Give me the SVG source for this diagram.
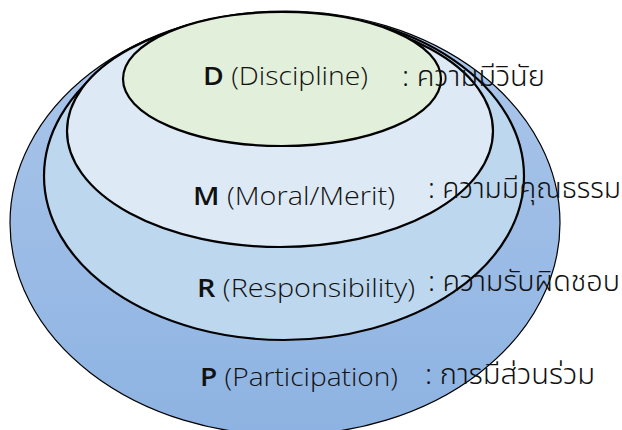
<svg xmlns="http://www.w3.org/2000/svg" width="622" height="430" viewBox="0 0 622 430">
<defs>
<linearGradient id="gP" x1="0" y1="0" x2="0" y2="1">
<stop offset="0" stop-color="#adc7ea"/>
<stop offset="1" stop-color="#8db3e2"/>
</linearGradient>
<style>
.lbl{font-family:"Open Sans","Noto Sans",sans-serif;font-size:25px;font-weight:300;fill:#111}
.th{font-family:"Noto Sans Thai","Noto Sans","DejaVu Sans",sans-serif;font-size:28px;font-weight:300;fill:#111}
.b{font-weight:600}
.ring{stroke:#000;stroke-width:2.2}
</style>
</defs>
<rect width="622" height="430" fill="#fff"/>
<g id="P">
<ellipse cx="285" cy="223" rx="275" ry="212" fill="url(#gP)" stroke="#000" stroke-width="1.2"/>
</g>
<g id="R">
<ellipse class="ring" cx="284" cy="176" rx="240" ry="164" fill="#bdd7ee"/>
</g>
<g id="M">
<ellipse class="ring" cx="280" cy="131" rx="213" ry="116" fill="#ddeaf6"/>
</g>
<g id="D">
<ellipse class="ring" cx="282" cy="79" rx="159" ry="67" fill="#e2efda"/>
</g>
<g id="labels">
<text class="lbl" x="203" y="85" textLength="165" lengthAdjust="spacingAndGlyphs"><tspan class="b">D</tspan> (Discipline)</text>
<text class="th" x="402" y="86" textLength="143" lengthAdjust="spacingAndGlyphs">: ความมีวินัย</text>
<text class="lbl" x="193" y="205" textLength="202" lengthAdjust="spacingAndGlyphs"><tspan class="b">M</tspan> (Moral/Merit)</text>
<text class="th" x="428" y="198" textLength="193" lengthAdjust="spacingAndGlyphs">: ความมีคุณธรรม</text>
<text class="lbl" x="197" y="297" textLength="218" lengthAdjust="spacingAndGlyphs"><tspan class="b">R</tspan> (Responsibility)</text>
<text class="th" x="428" y="291" textLength="192" lengthAdjust="spacingAndGlyphs">: ความรับผิดชอบ</text>
<text class="lbl" x="200" y="386" textLength="198" lengthAdjust="spacingAndGlyphs"><tspan class="b">P</tspan> (Participation)</text>
<text class="th" x="425" y="384" textLength="170" lengthAdjust="spacingAndGlyphs">: การมีส่วนร่วม</text>
</g>
</svg>
